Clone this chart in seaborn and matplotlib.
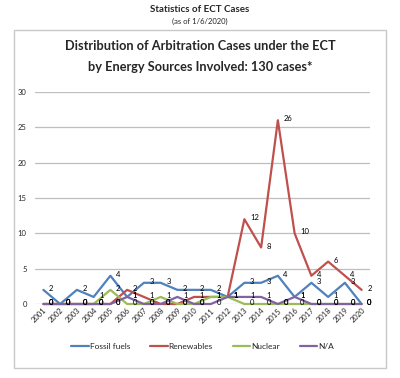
import matplotlib
matplotlib.use("Agg")
import matplotlib.pyplot as plt
import matplotlib.patches as mpatches
import seaborn as sns
import pandas as pd

years = [str(y) for y in range(2001, 2021)]
fossil = [2, 0, 2, 1, 4, 1, 3, 3, 2, 2, 2, 1, 3, 3, 4, 1, 3, 1, 3, 0]
renew = [0, 0, 0, 0, 0, 2, 1, 0, 0, 1, 1, 1, 12, 8, 26, 10, 4, 6, 4, 2]
nuclear = [0, 0, 0, 0, 2, 0, 0, 1, 0, 0, 1, 1, 0, 0, 0, 0, 0, 0, 0, 0]
na = [0, 0, 0, 0, 0, 1, 0, 0, 1, 0, 0, 1, 1, 1, 0, 1, 0, 0, 0, 0]
series_names = ["Fossil fuels", "Renewables", "Nuclear", "N/A"]
colors = ["#4F81BD", "#C0504D", "#9BBB59", "#8064A2"]

sns.set_style("white")
plt.rcParams['font.family'] = ['Lato', 'DejaVu Sans']

rows = []
for name, vals in zip(series_names, [fossil, renew, nuclear, na]):
    for i, v in enumerate(vals):
        rows.append({"idx": i, "year": years[i], "value": v, "series": name})
df = pd.DataFrame(rows)

fig = plt.figure(figsize=(4.0, 3.78), dpi=100)
ax = fig.add_axes([35/400, 1 - 304/378, (370 - 35)/400, (304 - 92)/378])

# border box
fig.patches.append(mpatches.Rectangle((14/400, 1 - 368/378), 372/400, 338/378,
                                      transform=fig.transFigure, fill=False,
                                      edgecolor="#C8C8C8", linewidth=1.0))

sns.lineplot(data=df, x="idx", y="value", hue="series", palette=colors,
             hue_order=series_names, linewidth=1.6, ax=ax, legend=True)
for line in ax.lines:
    line.set_clip_on(False)

for name, vals, c in zip(series_names, [fossil, renew, nuclear, na], colors):
    for i, v in enumerate(vals):
        ax.annotate(str(v), (i, v), xytext=(4, 1), textcoords="offset points",
                    fontsize=5.5, color="black", va="center", ha="left")

ax.set_xlim(-0.5, 19.5)
ax.set_ylim(0, 30)
ax.set_yticks(range(0, 31, 5))
ax.set_xticks(range(20))
ax.set_xticklabels(years, rotation=45, ha="right", rotation_mode="anchor", fontsize=5.5)
ax.tick_params(axis="y", labelsize=5.5, length=0, pad=6)
ax.tick_params(axis="x", length=0, pad=2)
ax.grid(axis="y", color="#BEBEBE", linewidth=0.9)
for s in ax.spines.values():
    s.set_visible(False)
ax.set_xlabel("")
ax.set_ylabel("")

handles, labels = ax.get_legend_handles_labels()
ax.legend(handles, labels, loc="center", bbox_to_anchor=(0.5, -0.2), ncol=4,
          frameon=False, fontsize=6, handlelength=2.1, handletextpad=0.1,
          columnspacing=2.4)

fig.text(0.5, 1 - 10/378, "Statistics of ECT Cases", ha="center", va="center",
         fontsize=7, fontweight="bold")
fig.text(0.5, 1 - 21/378, "(as of 1/6/2020)", ha="center", va="center", fontsize=5.5)
fig.text(0.5, 1 - 46/378, "Distribution of Arbitration Cases under the ECT",
         ha="center", va="center", fontsize=9.2, fontweight="bold")
fig.text(0.5, 1 - 67/378, "by Energy Sources Involved: 130 cases*",
         ha="center", va="center", fontsize=9.2, fontweight="bold")

fig.savefig("out.png", dpi=100)
